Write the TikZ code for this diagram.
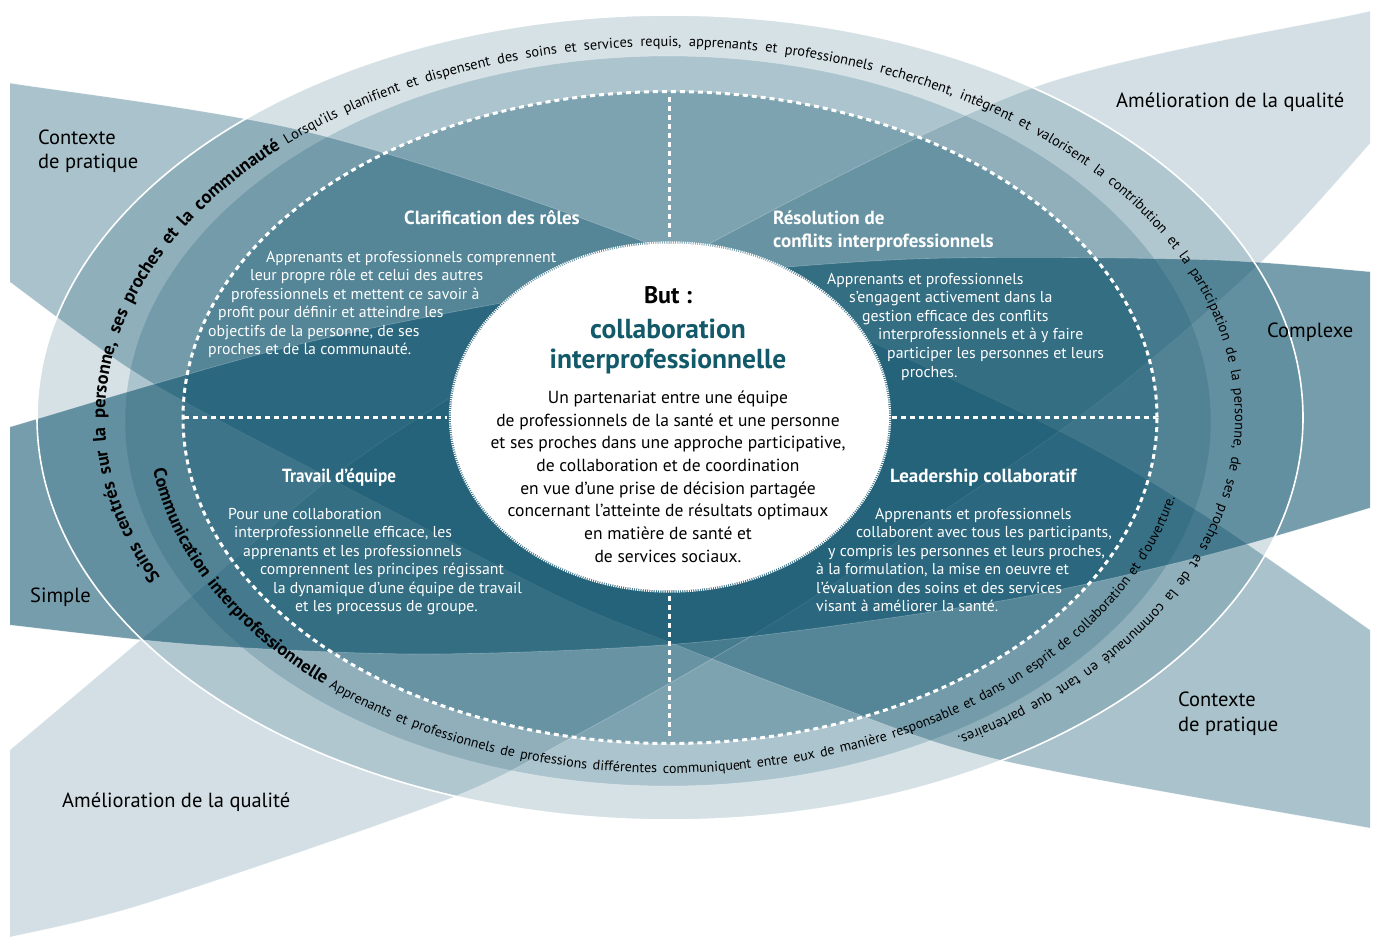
\documentclass[tikz,border=0pt]{standalone}
\usepackage{fontspec}
\usepackage{graphicx}
\setmainfont{PT Sans}
\usetikzlibrary{decorations.text}
\definecolor{base}{RGB}{10,80,106}
\definecolor{tealtxt}{RGB}{18,89,106}
\newcommand\opboldA{\fontsize{18.4}{21}\bfseries\selectfont}
\newcommand\opregA{\fontsize{14.4}{17}\mdseries\selectfont}
\newcommand\opboldB{\fontsize{18}{20}\bfseries\selectfont}
\newcommand\opregB{\fontsize{14}{17}\mdseries\selectfont}
\begin{document}
\begin{tikzpicture}[x=1pt,y=1pt,
  lab/.style={font=\fontsize{20.5}{23}\selectfont, text=black, inner sep=0pt, anchor=base west},
  head/.style={font=\bfseries\fontsize{19}{21}\selectfont, text=white, inner sep=0pt, anchor=base west},
  body/.style={font=\fontsize{15.8}{18}\selectfont, text=white, inner sep=0pt, anchor=base west},
  ctr/.style={font=\fontsize{17.5}{20}\selectfont, text=black, inner sep=0pt, anchor=base},
  dots/.style={white, line width=3pt, dash pattern=on 5pt off 4pt},
  edgeline/.style={draw=white, draw opacity=.28, line width=.6pt},
]
\useasboundingbox (0,0) rectangle (1374,-937);
% ellipse rings
\fill[base, opacity=.17] (670,-417.5) ellipse[x radius=633, y radius=402.5];
\path[fill=base, fill opacity=.205, edgeline] (668,-421) ellipse[x radius=543, y radius=365];
\fill[base, opacity=.29] (670,-417.5) ellipse[x radius=487, y radius=326];
% lenses
\begin{scope}
\clip (10,0) rectangle (1370,-937);
\path[fill=base, fill opacity=.35, edgeline] plot[smooth] coordinates {(-30,-78) (9,-83) (312,-133) (647,-243) (1037,-420) (1193,-508) (1370,-630) (1400,-652)} -- plot[smooth] coordinates {(1400,-833) (1370,-828) (1000,-760) (820,-700) (669,-642) (560,-597) (333,-480) (147,-380) (10,-282) (-30,-250)} -- cycle;
\path[fill=base, fill opacity=.18, edgeline] plot[smooth] coordinates {(-20,-775) (10,-750) (150,-632) (322,-485) (450,-398) (707,-245) (1035,-87) (1362,-13) (1400,-5)} -- plot[smooth] coordinates {(1400,-105) (1373,-140) (1256,-267) (1079,-417) (820,-593) (710,-660) (573,-737) (446,-800) (147,-903) (10,-937) (-20,-942)} -- cycle;
\path[fill=base, fill opacity=.56, edgeline] plot[smooth] coordinates {(-20,-437) (10,-427) (300,-344) (600,-287) (900,-259.5) (1200,-259.5) (1373,-272) (1400,-275)} -- plot[smooth] coordinates {(1400,-498) (1373,-507) (1200,-557) (1000,-601) (700,-642) (431.5,-654) (200,-645) (10,-625) (-20,-621)} -- cycle;
\end{scope}
\draw[white, line width=1.6pt] (670,-417.5) ellipse[x radius=633, y radius=402.5];
% dotted structure
\draw[dots] (670,-417.5) ellipse[x radius=487, y radius=326];
\draw[dots] (184,-417) -- (447,-417);
\draw[dots] (892,-417) -- (1156,-417);
\draw[dots] (669,-97) -- (669,-241);
\draw[dots] (669,-596) -- (669,-739);
% centre
\fill[white] (670,-417) ellipse[x radius=219, y radius=173.5];
\draw[white, line width=2.4pt, dash pattern=on 1.2pt off 1pt] (670,-417) ellipse[x radius=220, y radius=174.5];
% text on paths
{\opregA
\path[decorate, decoration={text along path, text align={fit to path stretching spaces, right indent=5pt}, text={|\opboldA|Soins centrés sur la personne, ses proches et la communauté|\opregA| Lorsqu’ils planifient et dispensent des soins et services requis, apprenants et professionnels recherchent, intègrent et valorisent la contribution et la participation de la personne, de ses proches et de la communauté en tant que partenaires.}}] (670,-417.5) ++(205.6:565 and 371) arc[start angle=205.6, end angle=-59.6, x radius=565, y radius=371];
}
{\opregB
\path[decorate, decoration={text along path, text align={fit to path stretching spaces, right indent=5pt}, text={|\opboldB|Communication interprofessionnelle|\opregB| Apprenants et professionnels de professions différentes communiquent entre eux de manière responsable et dans un esprit de collaboration et d’ouverture.}}] (668,-420) ++(188.1:520 and 353) arc[start angle=188.1, end angle=347.9, x radius=520, y radius=353];
}
% outer labels
\node[lab] (ctxa) at (38,-144) {Contexte};
\node[lab] (ctxb) at (38,-168) {de pratique};
\node[lab] (aqa) at (1116,-107) {Amélioration de la qualité};
\node[lab] (cpx) at (1267,-337) {Complexe};
\node[lab] (smp) at (30,-602) {Simple};
\node[lab] (aqb) at (62,-807) {Amélioration de la qualité};
\node[lab] (ctxc) at (1178,-706) {Contexte};
\node[lab] (ctxd) at (1178,-731) {de pratique};
% headings
\node[head, anchor=base] (h1) at (492,-224) {Clarification des rôles};
\node[head] (h2) at (773,-224) {Résolution de};
\node[head] (h2b) at (773,-247) {conflits interprofessionnels};
\node[head] (h3) at (282,-482) {\scalebox{0.9}[1]{Travail d’équipe}};
\node[head] (h4) at (890,-482) {Leadership collaboratif};
% bodies
\node[body] (a1) at (266,-262) {Apprenants et professionnels comprennent};
\node[body] (a2) at (250,-280) {leur propre rôle et celui des autres};
\node[body] (a3) at (231,-299) {professionnels et mettent ce savoir à};
\node[body] (a4) at (218,-317) {profit pour définir et atteindre les};
\node[body] (a5) at (208,-336) {objectifs de la personne, de ses};
\node[body] (a6) at (208,-354) {proches et de la communauté.};
\node[body] (b1) at (827,-284) {Apprenants et professionnels};
\node[body] (b2) at (849,-302) {s’engagent activement dans la};
\node[body] (b3) at (862,-321) {gestion efficace des conflits};
\node[body] (b4) at (878,-339) {interprofessionnels et à y faire};
\node[body] (b5) at (887,-358) {participer les personnes et leurs};
\node[body] (b6) at (901,-377) {proches.};
\node[body] (c1) at (228,-519) {Pour une collaboration};
\node[body] (c2) at (234,-537) {interprofessionnelle efficace, les};
\node[body] (c3) at (243,-556) {apprenants et les professionnels};
\node[body] (c4) at (260,-574) {comprennent les principes régissant};
\node[body] (c5) at (273,-593) {la dynamique d’une équipe de travail};
\node[body] (c6) at (295,-611) {et les processus de groupe.};
\node[body] (d1) at (875,-519) {Apprenants et professionnels};
\node[body] (d2) at (856,-537) {collaborent avec tous les participants,};
\node[body] (d3) at (828,-556) {y compris les personnes et leurs proches,};
\node[body] (d4) at (816,-574) {à la formulation, la mise en oeuvre et};
\node[body] (d5) at (816,-593) {l’évaluation des soins et des services};
\node[body] (d6) at (816,-611) {visant à améliorer la santé.};
% centre text
\node[font=\bfseries\fontsize{24}{26}\selectfont, anchor=base, inner sep=0pt] (but) at (668,-303) {But :};
\node[font=\bfseries\fontsize{27.5}{30}\selectfont, text=tealtxt, anchor=base, inner sep=0pt] (col1) at (668,-338) {collaboration};
\node[font=\bfseries\fontsize{27.5}{30}\selectfont, text=tealtxt, anchor=base, inner sep=0pt] (col2) at (668,-368) {interprofessionnelle};
\node[ctr] (e1) at (668,-403) {Un partenariat entre une équipe};
\node[ctr] (e2) at (668,-426) {de professionnels de la santé et une personne};
\node[ctr] (e3) at (668,-448) {et ses proches dans une approche participative,};
\node[ctr] (e4) at (668,-471) {de collaboration et de coordination};
\node[ctr] (e5) at (668,-494) {en vue d’une prise de décision partagée};
\node[ctr] (e6) at (668,-516) {concernant l’atteinte de résultats optimaux};
\node[ctr] (e7) at (668,-539) {en matière de santé et};
\node[ctr] (e8) at (668,-562) {de services sociaux.};
\end{tikzpicture}
\end{document}
